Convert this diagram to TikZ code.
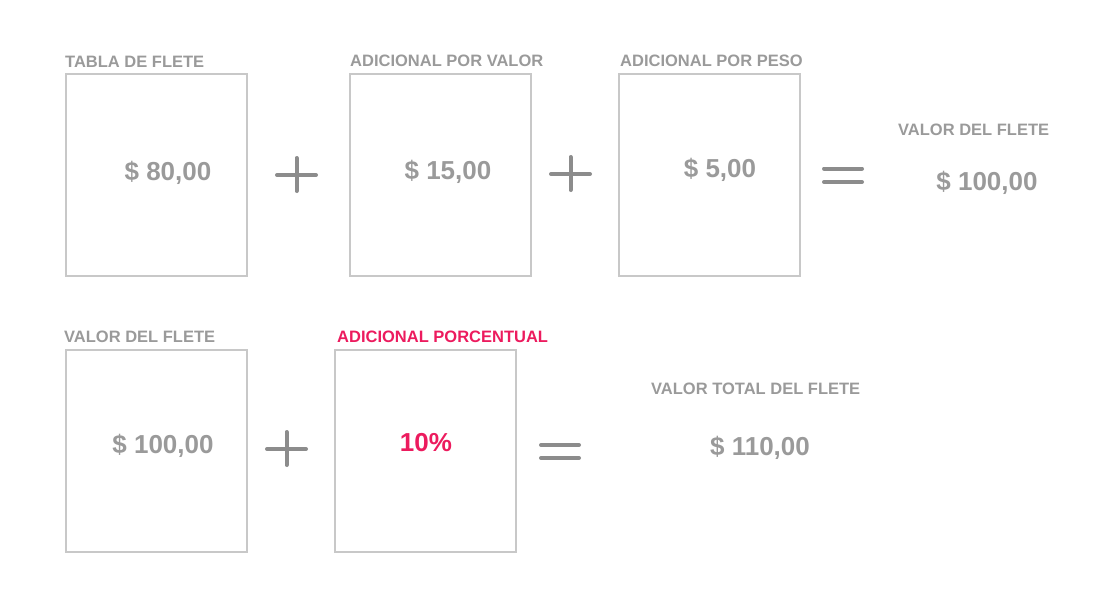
\documentclass[tikz,border=0pt]{standalone}
\usepackage{fontspec}
\setmainfont{Liberation Sans}
\definecolor{txtgray}{HTML}{9A9A9A}
\definecolor{boxgray}{HTML}{C8C8C8}
\definecolor{opgray}{HTML}{8C8C8C}
\definecolor{pinkc}{HTML}{EC1B5E}
\begin{document}
\begin{tikzpicture}[x=1pt,y=-1pt,
  card/.style={draw=boxgray,line width=2pt},
  lbl/.style={anchor=west,inner sep=0pt,text=txtgray,font=\bfseries\fontsize{16.5}{16.5}\selectfont},
  val/.style={inner sep=0pt,text=txtgray,font=\bfseries\fontsize{26}{26}\selectfont},
  op/.style={draw=opgray,line width=4pt,line cap=round}]
\useasboundingbox (0,0) rectangle (1114,600);
% boxes
\draw[card] (66,74) rectangle (247,276);
\draw[card] (350,74) rectangle (531,276);
\draw[card] (619,74) rectangle (800,276);
\draw[card] (66,350) rectangle (247,552);
\draw[card] (335,350) rectangle (516,552);
% labels
\node[lbl] (l1) at (65,62) {TABLA DE FLETE};
\node[lbl] (l2) at (350,61) {ADICIONAL POR VALOR};
\node[lbl] (l3) at (620,61) {ADICIONAL POR PESO};
\node[lbl] (l4) at (898,130) {VALOR DEL FLETE};
\node[lbl] (l5) at (64,337) {VALOR DEL FLETE};
\node[lbl,text=pinkc] (l6) at (337,337) {ADICIONAL PORCENTUAL};
\node[lbl] (l7) at (651,389) {VALOR TOTAL DEL FLETE};
% values
\node[val] (v1) at (168,173) {\$ 80,00};
\node[val] (v2) at (448,172) {\$ 15,00};
\node[val] (v3) at (720,170) {\$ 5,00};
\node[val] (v4) at (987,183) {\$ 100,00};
\node[val] (v5) at (163,446) {\$ 100,00};
\node[val,text=pinkc] (v6) at (426,443) {10\%};
\node[val] (v7) at (760,448) {\$ 110,00};
% operators
\draw[op] (277,175) -- (316,175) (296.5,158) -- (296.5,191);
\draw[op] (551,174) -- (590,174) (570.5,157) -- (570.5,190);
\draw[op] (267,449) -- (306,449) (286.5,432) -- (286.5,465);
\draw[op] (824,168.5) -- (862,168.5) (824,182) -- (862,182);
\draw[op] (541,445) -- (579,445) (541,458) -- (579,458);
\end{tikzpicture}
\end{document}
